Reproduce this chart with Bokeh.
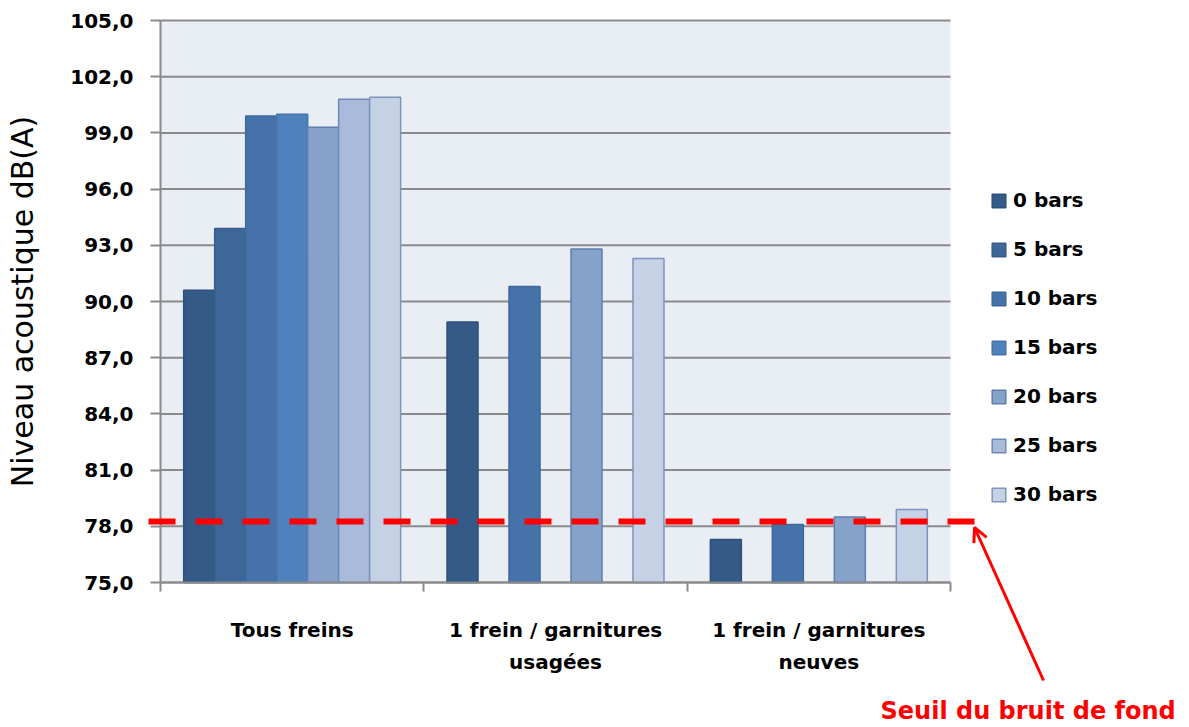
from bokeh.plotting import figure
from bokeh.models import (FixedTicker, Legend, LegendItem, Arrow, OpenHead,
                          Label, Range1d)
from bokeh.embed import file_html
from bokeh.resources import INLINE

# ---------------- data ----------------
CATEGORIES = ["Tous freins",
              "1 frein / garnitures\nusagées",
              "1 frein / garnitures\nneuves"]
SERIES = ["0 bars", "5 bars", "10 bars", "15 bars", "20 bars", "25 bars", "30 bars"]
BARS_0 = [90.6, 88.9, 77.3]
BARS_5 = [93.9, None, None]
BARS_10 = [99.9, 90.8, 78.1]
BARS_15 = [100.0, None, None]
BARS_20 = [99.3, 92.8, 78.5]
BARS_25 = [100.8, None, None]
BARS_30 = [100.9, 92.3, 78.9]
Y_TICKS = [75, 78, 81, 84, 87, 90, 93, 96, 99, 102, 105]
Y_TICK_LABELS = ["75,0", "78,0", "81,0", "84,0", "87,0", "90,0", "93,0",
                 "96,0", "99,0", "102,0", "105,0"]
THRESHOLD = 78.25
THRESHOLD_LABEL = "Seuil du bruit de fond"
Y_LABEL = "Niveau acoustique dB(A)"

SERIES_VALUES = [BARS_0, BARS_5, BARS_10, BARS_15, BARS_20, BARS_25, BARS_30]
COLORS = ["#345a87", "#3e6799", "#4672aa", "#4f81bd", "#86a2cb", "#a9badb", "#c5d1e4"]
EDGES = ["#2f5079", "#385d8a", "#3f679a", "#4774aa", "#5f7fae", "#6f8ab6", "#7d95bc"]

FONT = "DejaVu Sans"
GRAY = "#8a8a8a"
Y_MIN, Y_MAX = Y_TICKS[0], Y_TICKS[-1]
N_CAT = len(CATEGORIES)

# frame = whole canvas; chart area (0..3, 75..105) placed at px 160..950, 20..582
W, H = 1189, 727
PX_X = (950 - 160) / N_CAT
PX_Y = (582 - 20) / (Y_MAX - Y_MIN)
x_range = Range1d(-160 / PX_X, (W - 160) / PX_X)
y_range = Range1d(Y_MAX - (H - 20) / PX_Y, Y_MAX + 20 / PX_Y)

p = figure(width=W, height=H, output_backend="svg", toolbar_location=None,
           x_range=x_range, y_range=y_range,
           min_border_left=0, min_border_right=0, min_border_top=0,
           min_border_bottom=0)
p.background_fill_color = "white"
p.border_fill_color = "white"
p.outline_line_color = None
p.xgrid.visible = False
p.ygrid.visible = False

# plot area background and gridlines
p.quad(left=0, right=N_CAT, bottom=Y_MIN, top=Y_MAX, fill_color="#e9edf4", line_color=None)
p.segment(x0=[0] * len(Y_TICKS), x1=[N_CAT] * len(Y_TICKS), y0=Y_TICKS, y1=Y_TICKS,
          line_color=GRAY, line_width=2)

bar_w = 0.1177
items = []
for j, (name, vals) in enumerate(zip(SERIES, SERIES_VALUES)):
    xs, tops = [], []
    for i, v in enumerate(vals):
        if v is not None:
            xs.append(i + 0.5 + (j - 3) * bar_w)
            tops.append(v)
    r = p.vbar(x=xs, top=tops, bottom=Y_MIN, width=bar_w,
               fill_color=COLORS[j], line_color=EDGES[j], line_width=1.5)
    items.append(LegendItem(label=name, renderers=[r]))

# axes
xa = p.xaxis[0]
xa.fixed_location = Y_MIN
xa.bounds = (0, N_CAT)
xa.ticker = FixedTicker(ticks=[0.5, 1.5, 2.5], minor_ticks=[0, 1, 2, 3])
xa.major_label_overrides = {i + 0.5: c for i, c in enumerate(CATEGORIES)}
xa.major_tick_out = 0
xa.major_tick_in = 0
xa.minor_tick_out = 9
xa.minor_tick_in = 0
xa.minor_tick_line_color = GRAY
xa.minor_tick_line_width = 2
xa.axis_line_color = GRAY
xa.axis_line_width = 2
xa.major_label_text_font = FONT
xa.major_label_text_font_style = "bold"
xa.major_label_text_font_size = "20px"
xa.major_label_text_line_height = 1.35
xa.major_label_standoff = 26
xa.major_label_text_color = "black"

ya = p.yaxis[0]
ya.fixed_location = 0
ya.bounds = (Y_MIN, Y_MAX)
ya.ticker = FixedTicker(ticks=Y_TICKS, minor_ticks=[])
ya.major_label_overrides = {t: l for t, l in zip(Y_TICKS, Y_TICK_LABELS)}
ya.major_tick_out = 10
ya.major_tick_in = 0
ya.major_tick_line_color = GRAY
ya.major_tick_line_width = 2
ya.axis_line_color = GRAY
ya.axis_line_width = 2
ya.major_label_text_font = FONT
ya.major_label_text_font_style = "bold"
ya.major_label_text_font_size = "20px"
ya.major_label_standoff = 17
ya.major_label_text_color = "black"
ya.axis_label = Y_LABEL
ya.axis_label_text_font = FONT
ya.axis_label_text_font_style = "normal"
ya.axis_label_text_font_size = "30px"
ya.axis_label_text_color = "black"
ya.axis_label_standoff = 27

# threshold dashed line
p.add_layout(Arrow(start=None, end=None, x_start=-12 / PX_X, y_start=THRESHOLD,
                   x_end=(975 - 160) / PX_X, y_end=THRESHOLD, line_color="#ff0000",
                   line_width=6, line_dash="27 20"))
# pointer arrow
p.add_layout(Arrow(end=OpenHead(size=14, line_color="#ff0000", line_width=3),
                   x_start=(1043 - 160) / PX_X, y_start=Y_MAX - (680 - 20) / PX_Y,
                   x_end=(974 - 160) / PX_X, y_end=Y_MAX - (527 - 20) / PX_Y,
                   line_color="#ff0000", line_width=3))
p.add_layout(Label(x=(880 - 160) / PX_X, y=Y_MAX - (724 - 20) / PX_Y,
                   text=THRESHOLD_LABEL, text_color="#ff0000",
                   text_font=FONT, text_font_style="bold", text_font_size="24px",
                   text_baseline="bottom"))

legend = Legend(items=items, location=(990, 221), orientation="vertical",
                label_text_font=FONT, label_text_font_style="bold",
                label_text_font_size="20px", label_text_color="black",
                glyph_width=17, glyph_height=17, label_height=20,
                label_standoff=6, spacing=25, padding=0, margin=0,
                border_line_color=None, background_fill_alpha=0)
p.add_layout(legend)

open("out.html", "w").write(file_html(p, INLINE))
